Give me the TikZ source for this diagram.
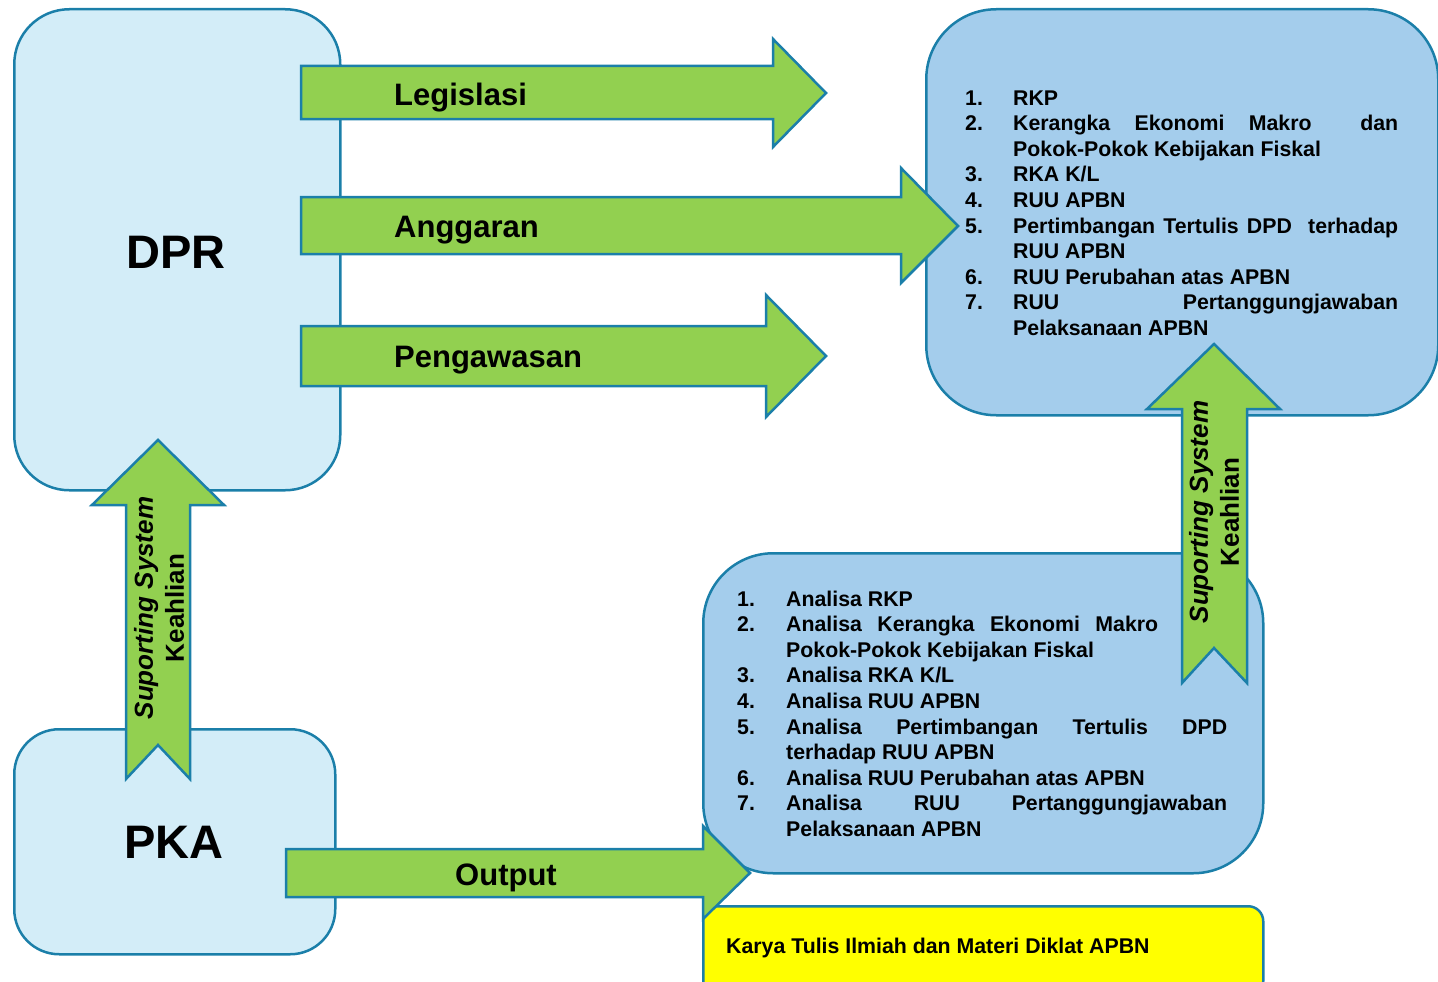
\documentclass[tikz,border=0pt]{standalone}
\usepackage{fontspec}
\setmainfont{Liberation Sans}
\definecolor{edge}{HTML}{1B7FA9}
\definecolor{palebox}{HTML}{D3EDF8}
\definecolor{bluebox}{HTML}{A4CDEC}
\definecolor{arrowgreen}{HTML}{92D050}
\definecolor{ybox}{HTML}{FFFF00}
\begin{document}
\begin{tikzpicture}[x=1pt,y=-1pt,
 boxshape/.style={draw=edge, line width=2.5pt, rectangle, anchor=north west, inner sep=0pt},
 blockarrow/.style={draw=edge, fill=arrowgreen, line width=2.5pt, line join=miter},
 lbl/.style={inner sep=0pt, font=\bfseries\fontsize{31}{36}\selectfont, anchor=base west},
 big/.style={inner sep=0pt, font=\bfseries\fontsize{47}{54}\selectfont, anchor=base},
 listtext/.style={inner sep=0pt, anchor=base west, font=\bfseries\fontsize{21.3}{25.6}\selectfont},
 vert/.style={inner sep=0pt, align=center, rotate=90, font=\bfseries\fontsize{26}{31}\selectfont}]

\useasboundingbox (0,0) rectangle (1438,982);
\clip (0,0) rectangle (1438,982);

% boxes
\node[boxshape, fill=palebox, rounded corners=55pt, minimum width=326pt, minimum height=481pt] (dpr) at (13,8) {};
\node[boxshape, fill=palebox, rounded corners=45pt, minimum width=321pt, minimum height=225pt] (pka) at (13,728) {};
\node[boxshape, fill=bluebox, rounded corners=70pt, minimum width=512pt, minimum height=406pt] (apbn) at (925,8) {};
\node[boxshape, fill=bluebox, rounded corners=70pt, minimum width=560pt, minimum height=320pt] (analisa) at (702,552) {};
\node[boxshape, fill=ybox, rounded corners=15pt, minimum width=560pt, minimum height=90pt] (karya) at (702,905) {};

% box labels
\node[big] (dprlbl) at (176,268) {DPR};
\node[big] (pkalbl) at (174,858) {PKA};

\node[listtext] (apbnlist) at (965,105) {\begin{tabular}[t]{@{}p{48pt}@{}l@{}}
1. & RKP\\
2. & \makebox[385pt][l]{Kerangka\hfill Ekonomi\hfill Makro\hfill\hfill dan}\\
 & Pokok-Pokok Kebijakan Fiskal\\
3. & RKA K/L\\
4. & RUU APBN\\
5. & \makebox[385pt][s]{Pertimbangan Tertulis DPD\ \ terhadap}\\
 & RUU APBN\\
6. & RUU Perubahan atas APBN\\
7. & \makebox[385pt][s]{RUU Pertanggungjawaban}\\
 & Pelaksanaan APBN
\end{tabular}};

\node[listtext] (analist) at (737,606) {\begin{tabular}[t]{@{}p{49pt}@{}l@{}}
1. & Analisa RKP\\
2. & \makebox[372pt][s]{Analisa Kerangka Ekonomi Makro}\\
 & Pokok-Pokok Kebijakan Fiskal\\
3. & Analisa RKA K/L\\
4. & Analisa RUU APBN\\
5. & \makebox[441pt][s]{Analisa Pertimbangan Tertulis DPD}\\
 & terhadap RUU APBN\\
6. & Analisa RUU Perubahan atas APBN\\
7. & \makebox[441pt][s]{Analisa RUU Pertanggungjawaban}\\
 & Pelaksanaan APBN
\end{tabular}};

\node[listtext] (karyalbl) at (726,953) {Karya Tulis Ilmiah dan Materi Diklat APBN};

% block arrows
\draw[blockarrow] (301,66) -- (773,66) -- (773,39) -- (826,93) -- (773,147) -- (773,119) -- (301,119) -- cycle;
\draw[blockarrow] (301,197) -- (901,197) -- (901,168) -- (958,226) -- (901,283) -- (901,254) -- (301,254) -- cycle;
\draw[blockarrow] (301,326) -- (766,326) -- (766,295) -- (826,356) -- (766,417) -- (766,386) -- (301,386) -- cycle;
\draw[blockarrow] (286,849) -- (703,849) -- (703,826) -- (750,873) -- (703,919) -- (703,897) -- (286,897) -- cycle;
\draw[blockarrow] (126,779) -- (126,505) -- (92,505) -- (158,440) -- (224,505) -- (190,505) -- (190,779) -- (158,745) -- cycle;
\draw[blockarrow] (1182,683) -- (1182,409) -- (1147,409) -- (1214,344) -- (1280,409) -- (1247,409) -- (1247,683) -- (1214,648) -- cycle;

% arrow labels
\node[lbl] (leg) at (394,105) {Legislasi};
\node[lbl] (ang) at (394,237) {Anggaran};
\node[lbl] (pen) at (394,367) {Pengawasan};
\node[lbl] (out) at (455,885) {Output};
\node[vert] (sup1) at (159,608) {\textit{Suporting System}\\Keahlian};
\node[vert] (sup2) at (1214,512) {\textit{Suporting System}\\Keahlian};
\end{tikzpicture}
\end{document}
